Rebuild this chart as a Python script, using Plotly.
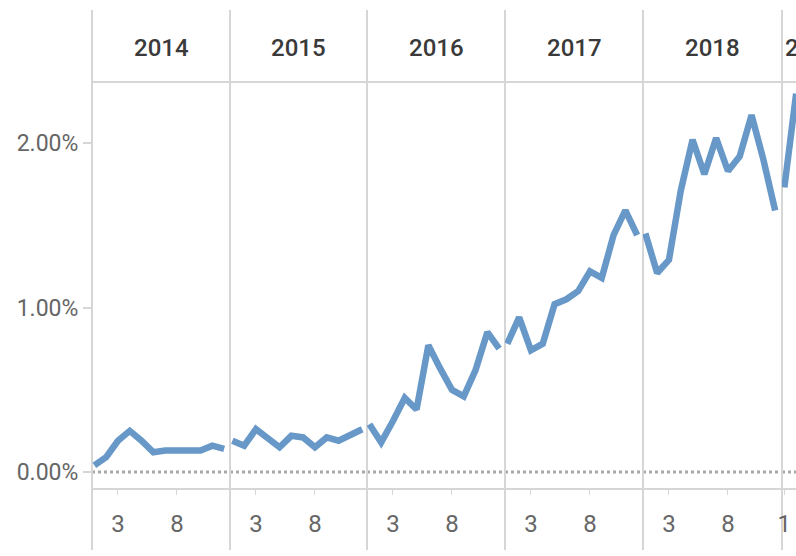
import plotly.graph_objects as go

# ---- data (values in percent) ----
years = ["2014", "2015", "2016", "2017", "2018", "2019"]
months = list(range(1, 13))
v2014 = [0.04, 0.09, 0.19, 0.25, 0.19, 0.12, 0.13, 0.13, 0.13, 0.13, 0.16, 0.14]
v2015 = [0.19, 0.16, 0.26, 0.20, 0.15, 0.22, 0.21, 0.15, 0.21, 0.19, 0.22, 0.26]
v2016 = [0.29, 0.18, 0.31, 0.45, 0.38, 0.77, 0.63, 0.50, 0.46, 0.62, 0.85, 0.75]
v2017 = [0.78, 0.94, 0.74, 0.78, 1.02, 1.05, 1.10, 1.22, 1.18, 1.44, 1.59, 1.44]
v2018 = [1.45, 1.21, 1.29, 1.71, 2.02, 1.81, 2.03, 1.83, 1.92, 2.17, 1.90, 1.59]
v2019 = [1.73, 2.30]
series = [v2014, v2015, v2016, v2017, v2018, v2019]

x_tickvals = [3, 8]
y_tickvals = [0.0, 0.01, 0.02]

# ---- layout geometry ----
W, H = 796, 556
panel_edges = [92, 230, 367, 505, 643, 782, 796]
plot_top, plot_bot = 82, 488
px_per_month = 11.8

FONT = "Roboto, Liberation Sans, Arial, sans-serif"
LINE_COLOR = "#6798c8"
GRID = "#d6d6d6"

fig = go.Figure()
layout = dict(
    width=W, height=H,
    margin=dict(l=0, r=0, t=0, b=0, autoexpand=False),
    paper_bgcolor="white", plot_bgcolor="white",
    showlegend=False,
    font=dict(family=FONT, color="#666666"),
)

ydom = [(H - plot_bot) / H, (H - plot_top) / H]
yrange = [-0.000973, 0.02371]

shapes = []
annotations = []
for i, (yr, vals) in enumerate(zip(years, series)):
    x0p, x1p = panel_edges[i], panel_edges[i + 1]
    width_px = x1p - x0p
    xr = [0.8, 0.8 + width_px / px_per_month]
    xa = "xaxis" if i == 0 else f"xaxis{i+1}"
    ya = "yaxis" if i == 0 else f"yaxis{i+1}"
    xref = "x" if i == 0 else f"x{i+1}"
    yref = "y" if i == 0 else f"y{i+1}"
    fig.add_trace(go.Scatter(
        x=months[:len(vals)], y=[v / 100 for v in vals],
        mode="lines", line=dict(color=LINE_COLOR, width=6.5),
        xaxis=xref, yaxis=yref, hoverinfo="skip",
    ))
    tv = x_tickvals if i < 5 else [1]
    layout[xa] = dict(
        domain=[x0p / W, x1p / W], range=xr, anchor=yref,
        tickmode="array", tickvals=tv, ticktext=[str(t) for t in tv],
        ticks="outside", ticklen=5, tickcolor=GRID, tickwidth=1,
        ticklabelstandoff=8,
        tickfont=dict(family=FONT, size=24, color="#666666"),
        showgrid=False, zeroline=False, showline=True, linecolor=GRID, linewidth=2,
        fixedrange=True, automargin=False,
    )
    layout[ya] = dict(
        domain=ydom, range=yrange, anchor=xref,
        showgrid=False, zeroline=False, showline=False,
        fixedrange=True, automargin=False,
    )
    if i == 0:
        layout[ya].update(
            tickmode="array", tickvals=y_tickvals, tickformat=".2%",
            ticks="outside", ticklen=8, tickcolor=GRID, tickwidth=2,
            tickfont=dict(family=FONT, size=23, color="#666666"),
            showticklabels=True,
        )
    else:
        layout[ya].update(showticklabels=False, ticks="")
    # dotted zero line
    shapes.append(dict(type="line", xref=f"{xref} domain", yref=yref,
                       x0=0, x1=1, y0=0, y1=0,
                       line=dict(color="#a8a8a8", width=3, dash="dot"), layer="below"))
    # year header
    hdr_font = dict(family=FONT, size=24, color="#3a3a3a", weight=500)
    if i < 5:
        annotations.append(dict(text=yr, xref="paper", yref="paper",
                                x=(x0p + x1p) / 2 / W, y=(H - 48) / H,
                                xanchor="center", yanchor="middle", showarrow=False,
                                font=hdr_font))
    else:
        annotations.append(dict(text=yr, xref="paper", yref="paper",
                                x=(x0p + 1) / W, y=(H - 48) / H,
                                xanchor="left", yanchor="middle", showarrow=False,
                                font=hdr_font))

# vertical panel separators
for e in panel_edges[:-1]:
    shapes.append(dict(type="line", xref="paper", yref="paper",
                       x0=e / W, x1=e / W, y0=(H - 550) / H, y1=(H - 10) / H,
                       line=dict(color=GRID, width=2), layer="below"))
# header bottom line
shapes.append(dict(type="line", xref="paper", yref="paper",
                   x0=92 / W, x1=1, y0=(H - plot_top) / H, y1=(H - plot_top) / H,
                   line=dict(color=GRID, width=2), layer="below"))

layout["shapes"] = shapes
layout["annotations"] = annotations
fig.update_layout(**layout)
fig.write_html("out.html",
               config={"displayModeBar": False, "staticPlot": True},
               post_script="document.body.style.margin='0px';document.body.style.overflow='hidden';")
